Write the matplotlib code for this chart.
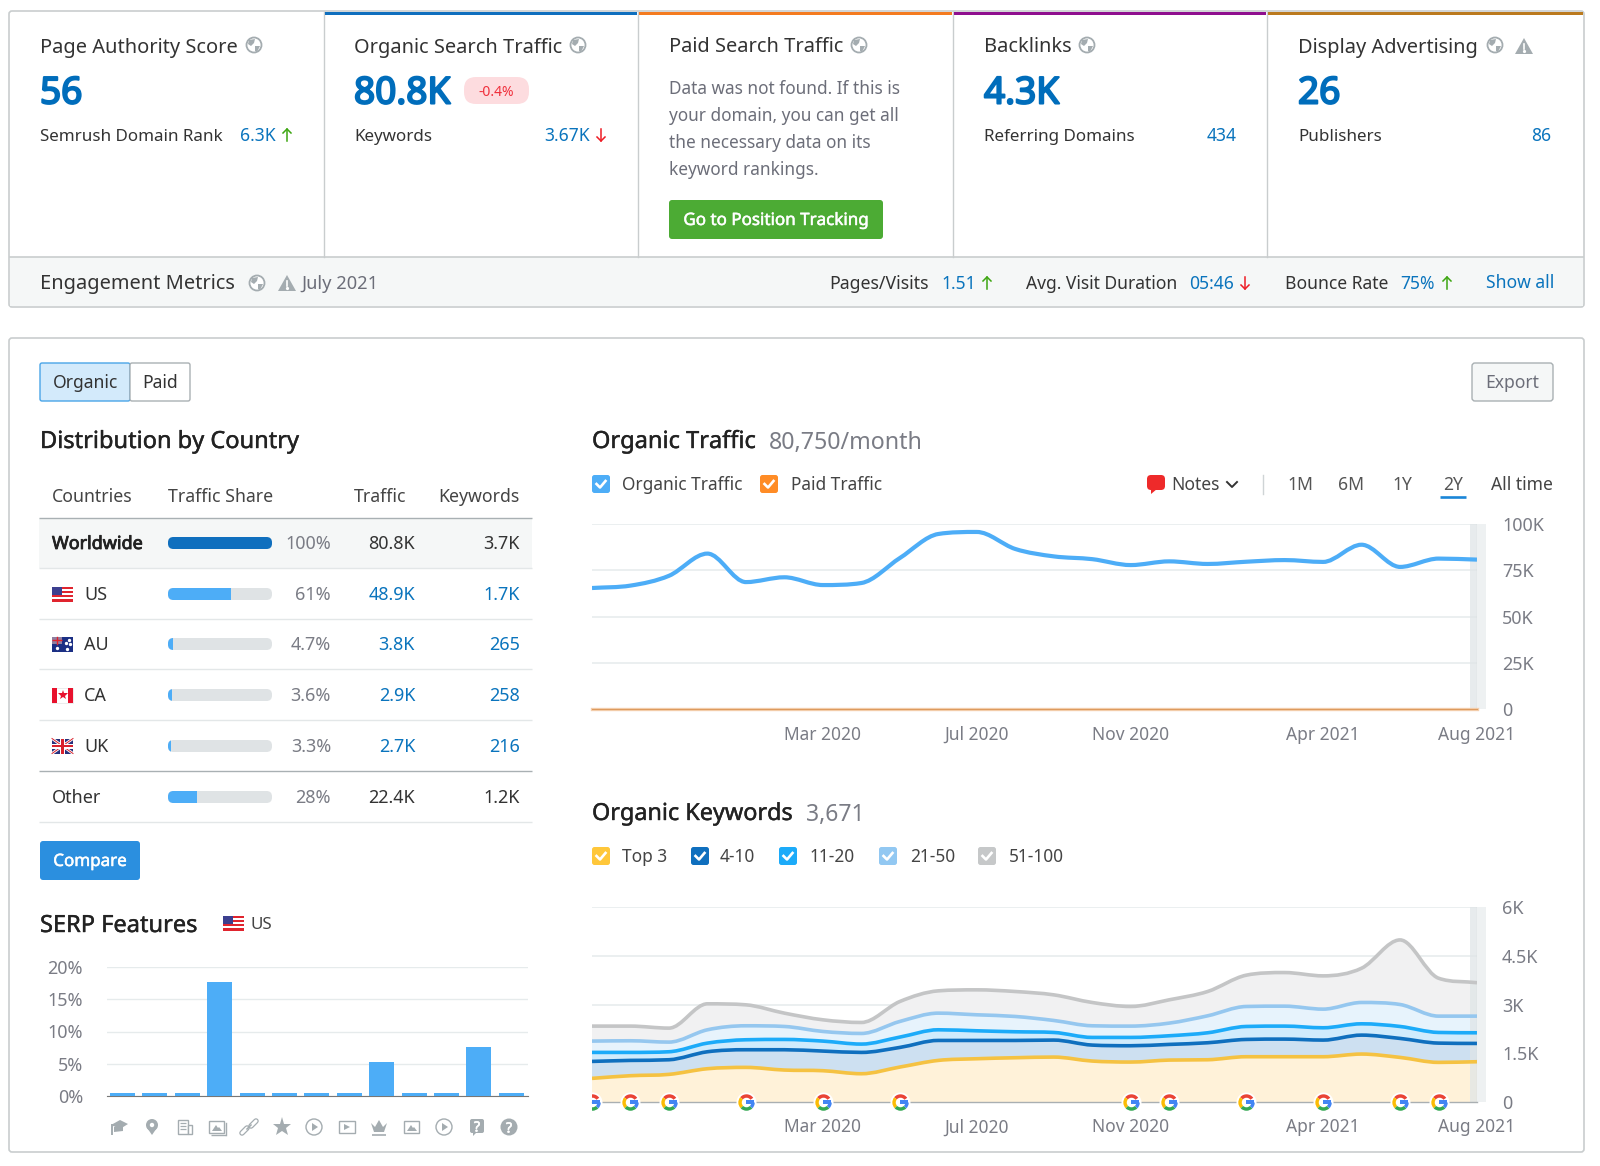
import matplotlib
matplotlib.use("Agg")
import numpy as np
import matplotlib.pyplot as plt
import matplotlib.patches as mpatches
import matplotlib.patheffects as pe
from matplotlib.path import Path
from matplotlib.transforms import Bbox, TransformedBbox

plt.rcParams["font.family"] = ["Noto Sans", "DejaVu Sans"]

# chart data
month_ticks = [6, 10, 14, 19, 23]
month_labels = ["Mar 2020", "Jul 2020", "Nov 2020", "Apr 2021", "Aug 2021"]
organic_traffic = [65400, 66700, 72000, 84000, 68600, 71200, 67000, 68100, 81600, 94600, 95700, 86500,
                   82500, 81000, 77800, 79800, 78400, 79600, 80500, 79500, 88800, 76800, 81300, 80750]
paid_traffic = [0] * 24
traffic_ticks = [0, 25000, 50000, 75000, 100000]
traffic_tick_labels = ["0", "25K", "50K", "75K", "100K"]

# cumulative tops of the keyword bands
kw_top3 = [727, 809, 850, 1024, 1065, 983, 963, 870, 1075, 1280, 1331, 1362,
           1382, 1260, 1229, 1290, 1300, 1393, 1393, 1393, 1475, 1372, 1219, 1239]
kw_4_10 = [1249, 1280, 1300, 1546, 1608, 1608, 1567, 1526, 1679, 1894, 1894, 1894,
           1905, 1751, 1731, 1772, 1823, 1925, 1935, 1905, 2058, 1956, 1812, 1802]
kw_11_20 = [1526, 1526, 1546, 1812, 1915, 1925, 1874, 1782, 1997, 2222, 2191, 2161,
            2140, 1987, 1987, 2038, 2130, 2324, 2335, 2284, 2406, 2324, 2140, 2130]
kw_21_50 = [1874, 1884, 1843, 2222, 2345, 2324, 2171, 2109, 2478, 2734, 2683, 2632,
            2509, 2345, 2335, 2427, 2652, 2939, 2949, 2857, 3062, 3000, 2642, 2642]
kw_51_100 = [2335, 2335, 2273, 3021, 2990, 2734, 2529, 2447, 3092, 3420, 3451, 3400,
             3297, 3062, 2939, 3144, 3400, 3901, 3983, 3881, 4116, 4987, 3809, 3671]
kw_ticks = [0, 1500, 3000, 4500, 6000]
kw_tick_labels = ["0", "1.5K", "3K", "4.5K", "6K"]
google_updates = [0, 1, 2, 4, 6, 8, 14, 15, 17, 19, 21, 22]

serp_values = [0.5, 0.5, 0.5, 17.6, 0.5, 0.5, 0.5, 0.5, 5.2, 0.5, 0.5, 7.6, 0.5]
serp_ticks = [0, 5, 10, 15, 20]

# table data
countries = ["Worldwide", "US", "AU", "CA", "UK", "Other"]
shares = [100, 61, 4.7, 3.6, 3.3, 28]
share_labels = ["100%", "61%", "4.7%", "3.6%", "3.3%", "28%"]
country_traffic = ["80.8K", "48.9K", "3.8K", "2.9K", "2.7K", "22.4K"]
country_keywords = ["3.7K", "1.7K", "265", "258", "216", "1.2K"]

TEXT = "#333333"
GREY = "#6c6e79"
LINK = "#0a74bd"
BIG = "#006dbb"
GREEN = "#3da611"
RED = "#ee1c25"
GRID = "#e6ebec"
ICON = "#a4acb0"
STRIP = "#f5f7f7"
BORDER = "#c9cdce"

fig = plt.figure(figsize=(16, 11.66), dpi=100, facecolor="white")
ui = fig.add_axes([0, 0, 1, 1], zorder=0)
ui.set_xlim(0, 1600)
ui.set_ylim(1166, 0)
ui.axis("off")


def pt(px):
    return px * 0.72


# the installed Noto Sans has no heavier cut here, so weight comes from a thin stroke
def label(x, y, s, size=19, color=TEXT, ha="left", stroke=0, zorder=6):
    t = ui.text(x, y - 1 if size < 30 else y, s, fontsize=pt(size), color=color, ha=ha,
                va="center_baseline", zorder=zorder)
    if stroke:
        t.set_path_effects([pe.withStroke(linewidth=stroke, foreground=color)])


def rect(x0, y0, x1, y1, fc, ec="none", lw=1, zorder=1, alpha=None):
    p = mpatches.Rectangle((x0, y0), x1 - x0, y1 - y0, fc=fc, ec=ec, lw=lw, zorder=zorder, alpha=alpha)
    ui.add_patch(p)
    return p


def rounded(x0, y0, x1, y1, fc, ec="none", lw=1, r=3, zorder=2):
    p = mpatches.FancyBboxPatch((x0 + r, y0 + r), x1 - x0 - 2 * r, y1 - y0 - 2 * r,
                                boxstyle=f"round,pad={r},rounding_size={r}",
                                fc=fc, ec=ec, lw=lw, zorder=zorder)
    ui.add_patch(p)
    return p


def hline(x0, x1, y, color, lw=1.0, zorder=3):
    ui.plot([x0, x1], [y, y], color=color, lw=lw, solid_capstyle="butt", zorder=zorder)


def globe(x, y):
    ui.add_patch(mpatches.Circle((x, y), 7.5, fc="white", ec=ICON, lw=1.3, zorder=4))
    ui.add_patch(mpatches.Polygon([(x - 5, y - 5), (x + 1, y - 6), (x, y - 2), (x - 3, y + 1), (x - 6, y - 1)],
                                  fc=ICON, ec="none", zorder=5))
    ui.add_patch(mpatches.Polygon([(x + 1, y + 1), (x + 6, y + 1), (x + 3, y + 7), (x + 1, y + 6)],
                                  fc=ICON, ec="none", zorder=5))


def warning(x, y, s=9):
    ui.add_patch(mpatches.Polygon([(x - s, y + s - 1), (x + s, y + s - 1), (x, y - s + 1)], fc=ICON, ec="none", zorder=4))
    ui.plot([x, x], [y - 2, y + 3], color="white", lw=1.2, zorder=5)
    ui.plot([x], [y + 5.3], marker="o", ms=1.3, color="white", zorder=5)


def arrow(x, y, color, up=True):
    d = -1 if up else 1
    ui.plot([x, x], [y - 6, y + 6], color=color, lw=1.1, zorder=5)
    ui.plot([x - 4, x, x + 4], [y + d * 2, y + d * 6, y + d * 2], color=color, lw=1.1, zorder=5)


def checkbox(x, y, color):
    rounded(x, y - 9, x + 18, y + 9, color, r=2.5, zorder=3)
    ui.plot([x + 4.5, x + 8, x + 13.5], [y, y + 3.5, y - 3], color="white", lw=1.9, zorder=4)


def flag(x, y, code):
    x1, y0, y1 = x + 21, y - 7.5, y + 7.5
    if code == "US":
        rect(x, y0, x1, y1, "white", zorder=3)
        for i in range(0, 7, 2):
            rect(x, y0 + i * 15 / 7, x1, y0 + (i + 1) * 15 / 7, "#e0242e", zorder=3)
        rect(x, y0, x + 10, y0 + 8, "#3c3f8f", zorder=4)
    elif code == "AU":
        rect(x, y0, x1, y1, "#1b2f84", zorder=3)
        rect(x, y0, x + 10, y0 + 7, "#8f7fa0", zorder=4)
        hline(x, x + 10, y0 + 3.5, "#e0242e", 1.0, zorder=5)
        ui.plot([x + 5, x + 5], [y0, y0 + 7], color="#e0242e", lw=1.0, zorder=5)
        ui.plot([x + 5, x + 15, x + 17, x + 14, x + 18], [y + 4, y + 4.5, y - 4, y - 1, y], ls="none",
                marker="o", ms=1.4, color="white", zorder=5)
    elif code == "CA":
        rect(x, y0, x1, y1, "white", ec="#dddddd", lw=0.4, zorder=3)
        rect(x, y0, x + 5, y1, "#e8112d", zorder=4)
        rect(x + 16, y0, x1, y1, "#e8112d", zorder=4)
        ui.plot([x + 10.5], [y], marker="*", ms=7.5, color="#e8112d", mew=0, zorder=5)
    else:
        rect(x, y0, x1, y1, "#27307c", zorder=3)
        ui.plot([x, x1], [y0, y1], color="white", lw=2, zorder=4)
        ui.plot([x, x1], [y1, y0], color="white", lw=2, zorder=4)
        ui.plot([x, x1], [y0, y1], color="#d8212c", lw=0.7, zorder=5)
        ui.plot([x, x1], [y1, y0], color="#d8212c", lw=0.7, zorder=5)
        rect(x + 8, y0, x + 13, y1, "white", zorder=5)
        rect(x, y - 2.5, x1, y + 2.5, "white", zorder=5)
        rect(x + 9.2, y0, x + 11.8, y1, "#d8212c", zorder=6)
        rect(x, y - 1.3, x1, y + 1.3, "#d8212c", zorder=6)


# --- top cards ---
rounded(9, 11, 1584, 307, "white", ec=BORDER, lw=1.2, r=3, zorder=1)
rect(10, 257, 1583, 306, STRIP, zorder=1)
hline(9, 1584, 257, BORDER, 1.2)
for x in [324, 638, 953, 1267]:
    ui.plot([x, x], [12, 257], color=BORDER, lw=1.0, zorder=3)
for x0, x1, c in [(325, 637, "#0f6fbe"), (639, 952, "#f47b20"), (954, 1266, "#8f0f8f"), (1268, 1583, "#bb7a1e")]:
    rect(x0, 12, x1, 15, c, zorder=4)

for x, s in [(40, "Page Authority Score"), (354, "Organic Search Traffic"), (669, "Paid Search Traffic"),
             (984, "Backlinks"), (1298, "Display Advertising")]:
    label(x, 46, s, 20)
for x in [254, 578, 859, 1087, 1495]:
    globe(x, 45)
warning(1524, 46)

for x, s in [(40, "56"), (354, "80.8K"), (984, "4.3K"), (1298, "26")]:
    label(x, 90, s, 37, BIG, stroke=1.5)
rounded(464, 77, 529, 104, "#fddcdf", r=12)
label(496.5, 91, "-0.4%", 14, "#f0303c", ha="center")

for x, s in [(40, "Semrush Domain Rank"), (354, "Keywords"), (984, "Referring Domains"), (1298, "Publishers")]:
    label(x, 136, s, 17)
label(276, 135, "6.3K", 17.5, LINK, ha="right")
arrow(287, 135, GREEN, True)
label(590, 135, "3.67K", 17.5, LINK, ha="right")
arrow(601, 135, RED, False)
label(1237, 135, "434", 17.5, LINK, ha="right")
label(1551, 135, "86", 17.5, LINK, ha="right")

for y, s in zip([88, 115, 142, 169], ["Data was not found. If this is", "your domain, you can get all",
                                      "the necessary data on its", "keyword rankings."]):
    label(669, y, s, 17.2, GREY)
rounded(669, 200, 883, 239, "#4cab34", r=3)
label(776, 220, "Go to Position Tracking", 17, "white", ha="center", stroke=0.35)

label(40, 283, "Engagement Metrics", 20)
globe(257, 283)
warning(287, 283)
label(301, 283, "July 2021", 18.3, GREY)
label(829, 283, "Pages/Visits", 17.7)
label(941, 283, "1.51", 17.5, LINK)
arrow(987, 283, GREEN, True)
label(1026, 283, "Avg. Visit Duration", 17.5)
label(1189, 283, "05:46", 17.5, LINK)
arrow(1245, 283, RED, False)
label(1285, 283, "Bounce Rate", 17.5)
label(1400, 283, "75%", 17.5, LINK)
arrow(1447, 283, GREEN, True)
label(1486, 282, "Show all", 17.5, LINK)

# --- lower panel ---
rounded(9, 338, 1584, 1152, "white", ec=BORDER, lw=1.2, r=3, zorder=1)
rounded(40, 363, 130, 401, "#d3eafb", ec="#4aa5e8", lw=1.0, r=2)
rounded(130, 363, 190, 401, "white", ec="#a9b0b3", lw=1.0, r=2)
label(85, 382, "Organic", 17.5, TEXT, ha="center")
label(160, 382, "Paid", 17.5, TEXT, ha="center")
rounded(1472, 363, 1553, 401, STRIP, ec="#a9b0b3", lw=1.0, r=3)
label(1512, 382, "Export", 17.5, GREY, ha="center")

# --- country table ---
label(40, 440, "Distribution by Country", 23.6, "#222222", stroke=0.3)
for x, s in [(52, "Countries"), (168, "Traffic Share"), (354, "Traffic"), (438, "Keywords")]:
    label(x, 496, s, 17.7, "#444444")
hline(39, 532, 518, "#a9b0b3", 1.0)
rect(39, 518, 532, 568, STRIP, zorder=1)
row_y = [543, 594, 644, 695, 746, 797]
for i, y in enumerate(row_y):
    hline(39, 532, y + 25, "#a9b0b3" if i == 4 else "#e3e7e8", 1.0)
    c = countries[i]
    if i == 0:
        label(52, y, c, 18, "#222222", stroke=0.6)
    elif i == 5:
        label(52, y, c, 18)
    else:
        flag(52, y, c)
        label(84, y, c, 18)
    track = rounded(168, y - 6, 272, y + 6, "#dfe3e5", r=5.5, zorder=2)
    fill = rect(168, y - 6, 168 + shares[i] * 1.04, y + 6, "#0f6fbe" if i == 0 else "#4dadf7", zorder=3)
    fill.set_clip_path(track)
    label(331, y, share_labels[i], 18, "#7a7c85", ha="right")
    tc = TEXT if i in (0, 5) else LINK
    label(415, y, country_traffic[i], 18, tc, ha="right")
    label(520, y, country_keywords[i], 18, tc, ha="right")

rounded(40, 841, 140, 880, "#2b8fdf", r=3)
label(90, 861, "Compare", 17, "white", ha="center", stroke=0.35)

# --- SERP features ---
label(40, 924, "SERP Features", 23.6, "#222222", stroke=0.3)
flag(223, 923, "US")
label(250, 924, "US", 17, "#444444")

ax_serp = fig.add_axes([107 / 1600, 1 - 1096 / 1166, 421 / 1600, 129 / 1166], zorder=2)
ax_serp.patch.set_visible(False)
ax_serp.bar(range(len(serp_values)), serp_values, width=0.77, color="#4dadf7", zorder=3)
ax_serp.set_xlim(-0.478, 12.515)
ax_serp.set_ylim(0, 20)
ax_serp.set_xticks([])
ax_serp.set_yticks(serp_ticks)
ax_serp.set_yticklabels([f"{v}%" for v in serp_ticks], fontsize=pt(18), color="#7a7c85", va="center_baseline")
ax_serp.tick_params(axis="y", length=0, pad=pt(24))
ax_serp.grid(axis="y", color=GRID, lw=1.0)
ax_serp.set_axisbelow(True)
for side in ["top", "left", "right"]:
    ax_serp.spines[side].set_visible(False)
ax_serp.spines["bottom"].set_color("#777777")

# feature icons under the bars
ix = [119, 152, 185, 217, 249, 282, 314, 347, 379, 412, 444, 477, 509]
iy = 1127
ui.add_patch(mpatches.Polygon([(ix[0] - 8, iy - 2), (ix[0] + 1, iy - 7), (ix[0] + 9, iy - 3), (ix[0] + 1, iy + 2)], fc=ICON, ec="none", zorder=4))
ui.add_patch(mpatches.Polygon([(ix[0] - 5, iy), (ix[0] + 4, iy), (ix[0] + 4, iy + 4), (ix[0] - 5, iy + 5)], fc=ICON, ec="none", zorder=3))
ui.plot([ix[0] - 7, ix[0] - 7], [iy - 2, iy + 7], color=ICON, lw=1.4, zorder=4)
ui.add_patch(mpatches.Circle((ix[1], iy - 2), 6, fc=ICON, ec="none", zorder=4))
ui.add_patch(mpatches.Polygon([(ix[1] - 5.5, iy), (ix[1] + 5.5, iy), (ix[1], iy + 8)], fc=ICON, ec="none", zorder=4))
ui.add_patch(mpatches.Circle((ix[1], iy - 2), 2.2, fc="white", ec="none", zorder=5))
rect(ix[2] - 7, iy - 7, ix[2] + 3, iy + 7, "white", ec=ICON, lw=1.0, zorder=4)
rect(ix[2] + 3, iy - 2, ix[2] + 7, iy + 7, "white", ec=ICON, lw=1.0, zorder=4)
for d in [-4, -1, 2]:
    hline(ix[2] - 5, ix[2] + 1, iy + d, ICON, 0.9, zorder=5)
for n in [3, 9]:
    k = ix[n]
    rect(k - 8, iy - 6, k + 7, iy + 6, "white", ec=ICON, lw=1.0, zorder=4)
    ui.add_patch(mpatches.Polygon([(k - 5, iy + 4), (k - 1, iy - 2), (k + 1, iy + 1), (k + 2, iy), (k + 5, iy + 4)], fc=ICON, ec="none", zorder=5))
hline(ix[3] - 6, ix[3] + 9, iy + 8, ICON, 1.0, zorder=4)
ui.plot([ix[3] + 9, ix[3] + 9], [iy - 4, iy + 8], color=ICON, lw=1.0, zorder=4)
ui.plot([ix[4] - 7, ix[4] - 2], [iy + 6, iy + 1], color=ICON, lw=4, solid_capstyle="round", zorder=4)
ui.plot([ix[4] - 7, ix[4] - 2], [iy + 6, iy + 1], color="white", lw=2.2, solid_capstyle="round", zorder=5)
ui.plot([ix[4] + 2, ix[4] + 7], [iy - 1, iy - 6], color=ICON, lw=4, solid_capstyle="round", zorder=4)
ui.plot([ix[4] + 2, ix[4] + 7], [iy - 1, iy - 6], color="white", lw=2.2, solid_capstyle="round", zorder=5)
ui.plot([ix[4] - 2, ix[4] + 2], [iy + 2, iy - 2], color=ICON, lw=1.1, zorder=6)
ui.plot([ix[5]], [iy], marker="*", ms=14, color=ICON, mew=0, zorder=4)
for n in [6, 10]:
    ui.add_patch(mpatches.Circle((ix[n], iy), 8, fc="white", ec=ICON, lw=1.0, zorder=4))
    ui.add_patch(mpatches.Polygon([(ix[n] - 2, iy - 4), (ix[n] + 4, iy), (ix[n] - 2, iy + 4)], fc=ICON, ec="none", zorder=5))
rect(ix[7] - 8, iy - 6, ix[7] + 8, iy + 6, "white", ec=ICON, lw=1.0, zorder=4)
ui.add_patch(mpatches.Polygon([(ix[7] - 3, iy - 3), (ix[7] + 3, iy), (ix[7] - 3, iy + 3)], fc=ICON, ec="none", zorder=5))
k = ix[8]
ui.add_patch(mpatches.Polygon([(k - 8, iy - 4), (k - 4, iy), (k, iy - 7), (k + 4, iy), (k + 8, iy - 4), (k + 5, iy + 5), (k - 5, iy + 5)], fc=ICON, ec="none", zorder=4))
hline(k - 7, k + 7, iy + 8, ICON, 1.2, zorder=4)
rounded(ix[11] - 7, iy - 8, ix[11] + 7, iy + 6, ICON, r=2, zorder=4)
ui.add_patch(mpatches.Polygon([(ix[11] - 4, iy + 5), (ix[11], iy + 5), (ix[11] - 4, iy + 9)], fc=ICON, ec="none", zorder=4))
label(ix[11], iy, "?", 14, "white", ha="center", stroke=0.5)
ui.add_patch(mpatches.Circle((ix[12], iy), 8.5, fc=ICON, ec="none", zorder=4))
label(ix[12], iy + 1, "?", 14, "white", ha="center", stroke=0.5)


# --- line charts ---
def tangents(x, y):
    d = np.diff(y) / np.diff(x)
    m = np.zeros(len(y))
    m[0], m[-1] = d[0], d[-1]
    for i in range(1, len(y) - 1):
        if d[i - 1] * d[i] > 0:
            m[i] = np.sign(d[i]) * min(abs(d[i - 1] + d[i]) / 2, 3 * abs(d[i - 1]), 3 * abs(d[i]))
    return m


def curve_verts(x, y):
    x, y = np.asarray(x, float), np.asarray(y, float)
    m = tangents(x, y)
    verts = [(x[0], y[0])]
    for i in range(len(x) - 1):
        h = (x[i + 1] - x[i]) / 3
        verts += [(x[i] + h, y[i] + m[i] * h), (x[i + 1] - h, y[i + 1] - m[i + 1] * h), (x[i + 1], y[i + 1])]
    return verts


def draw_line(ax, x, y, color, lw, zorder):
    verts = curve_verts(x, y)
    codes = [Path.MOVETO] + [Path.CURVE4] * (len(verts) - 1)
    ax.add_patch(mpatches.PathPatch(Path(verts, codes), fc="none", ec=color, lw=lw, zorder=zorder, capstyle="butt"))


def draw_band(ax, x, upper, lower, color, zorder):
    top = curve_verts(x, upper)
    bottom = curve_verts(x, lower)[::-1]
    verts = top + bottom + [top[0]]
    codes = [Path.MOVETO] + [Path.CURVE4] * (len(top) - 1) + [Path.LINETO] + [Path.CURVE4] * (len(bottom) - 1) + [Path.CLOSEPOLY]
    ax.add_patch(mpatches.PathPatch(Path(verts, codes), fc=color, ec="none", zorder=zorder))


def setup_chart(ax, yticks, ylabels, ymax):
    ax.patch.set_visible(False)
    ax.set_xlim(0, 23)
    ax.set_ylim(0, ymax)
    ax.set_xticks(month_ticks)
    ax.set_xticklabels(month_labels, fontsize=pt(17.4), color="#7a7c85")
    ax.yaxis.tick_right()
    ax.set_yticks(yticks)
    ax.set_yticklabels(ylabels, fontsize=pt(18), color="#7a7c85", va="center_baseline")
    ax.tick_params(axis="y", length=0, pad=pt(25))
    ax.tick_params(axis="x", length=0, pad=pt(16.5))
    ax.grid(axis="y", color=GRID, lw=1.1)
    ax.set_axisbelow(True)
    for side in ax.spines:
        ax.spines[side].set_visible(False)
    ax.axvspan(22.82, 23, color="#dfe5e7", alpha=0.75, zorder=3.5, lw=0)
    ax.axvline(23, color="#b7c1c4", lw=0.8, zorder=9)


months = np.arange(24)

label(592, 440, "Organic Traffic", 23.6, "#222222", stroke=0.3)
label(769, 441, "80,750/month", 23.2, "#7a7c85")
checkbox(592, 484, "#4dadf7")
label(622, 484, "Organic Traffic", 17.3, "#444444")
checkbox(760, 484, "#ff8c26")
label(791, 484, "Paid Traffic", 17.3, "#444444")
rounded(1147, 475, 1165, 490, "#ee2a2a", r=4, zorder=3)
ui.add_patch(mpatches.Polygon([(1151, 489), (1157, 489), (1151, 494)], fc="#ee2a2a", ec="none", zorder=3))
label(1171, 484, "Notes", 17.5, "#444444")
ui.plot([1227, 1232, 1237], [482, 487, 482], color="#333333", lw=1.4, zorder=4)
ui.plot([1263, 1263], [475, 494], color="#cfd4d6", lw=1.0, zorder=4)
for x, s in [(1300, "1M"), (1351, "6M"), (1402, "1Y"), (1453, "2Y")]:
    label(x, 484, s, 17.5, "#555555", ha="center")
label(1553, 484, "All time", 17.5, "#444444", ha="right")
hline(1440, 1466, 497, "#1a86d8", 1.9)

rect(1477, 524, 1486, 709, "#eef1f2", zorder=1)
ax_traffic = fig.add_axes([592 / 1600, 1 - 709 / 1166, 885 / 1600, 185 / 1166], zorder=2)
setup_chart(ax_traffic, traffic_ticks, traffic_tick_labels, 100000)
ax_traffic.plot(months, paid_traffic, color="#f4cfae", lw=2.4, clip_on=False, zorder=4)
ax_traffic.plot(months, paid_traffic, color="#dd9a5e", lw=0.8, clip_on=False, zorder=5)
draw_line(ax_traffic, months, organic_traffic, "#4dadf7", 3.0, 6)

label(592, 812, "Organic Keywords", 23.4, "#222222", stroke=0.3)
label(806, 813, "3,671", 23, "#7a7c85")
for x, lx, s, c in [(592, 622, "Top 3", "#ffc73a"), (691, 720, "4-10", "#0f6fbe"), (779, 810, "11-20", "#1cabf9"),
                    (879, 910, "21-50", "#92c8f2"), (978, 1009, "51-100", "#c6c8c9")]:
    checkbox(x, 856, c)
    label(lx, 856, s, 17.3, "#444444")

rect(1477, 907, 1486, 1102, "#eef1f2", zorder=1)
ax_kw = fig.add_axes([592 / 1600, 1 - 1102 / 1166, 885 / 1600, 195 / 1166], zorder=2)
setup_chart(ax_kw, kw_ticks, kw_tick_labels, 6000)
ax_kw.grid(axis="y", color=GRID, lw=1.1, zorder=7)
band_tops = [kw_51_100, kw_21_50, kw_11_20, kw_4_10, kw_top3]
band_fills = ["#f1f1f2", "#e7f3fc", "#d0ebfc", "#cde0f1", "#fff2d9"]
band_lines = ["#c4c5c6", "#95c7ef", "#1cabf9", "#0f6fbe", "#f5c242"]
lowers = [kw_21_50, kw_11_20, kw_4_10, kw_top3, [0] * 24]
for i in range(5):
    draw_band(ax_kw, months, band_tops[i], lowers[i], band_fills[i], 3)
for i in range(5):
    draw_line(ax_kw, months, band_tops[i], band_lines[i], 2.6, 4 + i)
ax_kw.axhline(0, color="#a9afb2", lw=1.0, clip_on=False, zorder=9)

# google update markers, cut at the left edge of the plot
g_clip = TransformedBbox(Bbox([[0, -0.1], [1, 1]]), ax_kw.transAxes)
g_parts = [
    (mpatches.Wedge((0, 0), 1, 35, 140, width=0.42).get_path(), "#ea4335"),
    (mpatches.Wedge((0, 0), 1, 140, 225, width=0.42).get_path(), "#fbbc05"),
    (mpatches.Wedge((0, 0), 1, 225, 315, width=0.42).get_path(), "#34a853"),
    (mpatches.Wedge((0, 0), 1, 315, 360, width=0.42).get_path(), "#4285f4"),
]
bar = Path([(0, 0.2), (1, 0.2), (1, -0.2), (0, -0.2), (0, 0.2)])
g_s = pt(16.5) ** 2
upd_y = np.zeros(len(google_updates))
halo = ax_kw.scatter(google_updates, upd_y, s=pt(20) ** 2, color="white", linewidths=0, zorder=10)
halo.set_clip_box(g_clip)
for path, c in g_parts + [(bar, "#4285f4")]:
    sc = ax_kw.scatter(google_updates, upd_y, s=g_s, marker=path, color=c, linewidths=0, zorder=11)
    sc.set_clip_box(g_clip)

fig.savefig("out.png", dpi=100)
